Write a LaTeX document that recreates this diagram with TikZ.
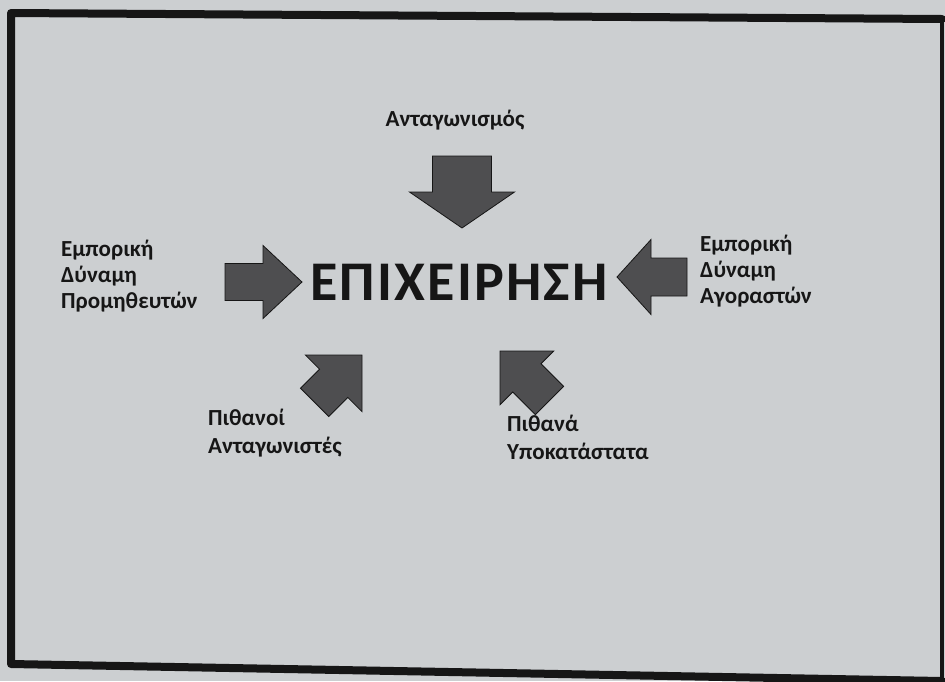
\documentclass[tikz,border=0pt]{standalone}
\usepackage{fontspec}
\setmainfont{Carlito}
\definecolor{paper}{RGB}{204,207,209}
\definecolor{arrowfill}{RGB}{78,78,80}
\definecolor{ink}{RGB}{22,22,22}
\newcommand\blockarrow[7]{% tip x, tip y, angle, length, head length, head width, shaft width
  \begin{scope}[shift={(#1,#2)},rotate=#3]
    \path[blockarrowstyle] (0,0) -- (-#5,#6/2) -- (-#5,#7/2) -- (-#4,#7/2)
      -- (-#4,-#7/2) -- (-#5,-#7/2) -- (-#5,-#6/2) -- cycle;
  \end{scope}}
\tikzset{
  blockarrowstyle/.style={fill=arrowfill,draw=ink,line width=0.8pt,line join=miter},
  lbl/.style={anchor=base west,inner sep=0pt,text=ink,font=\fontsize{23}{26}\selectfont\bfseries},
  mainlbl/.style={anchor=base,inner sep=0pt,text=ink,font=\fontsize{56}{60}\selectfont\bfseries\addfontfeature{LetterSpace=4}},
  framestyle/.style={draw=ink,line width=8pt,line cap=round,line join=round}
}
\begin{document}
\begin{tikzpicture}[x=1pt,y=-1pt]
\useasboundingbox (0,0) rectangle (945,681);
\fill[paper] (0,0) rectangle (945,681);
% frame
\coordinate (tl) at (11,13);
\coordinate (tr) at (942,19);
\coordinate (br) at (942,681);
\coordinate (bl) at (11,664);
\draw[framestyle] (tr) -- (tl) -- (bl) -- (br);
\draw[draw=ink,line width=4pt] (tr) -- (br);
% centre
\node[mainlbl] (firm) at (459,300) {ΕΠΙΧΕΙΡΗΣΗ};
% arrows
\blockarrow{462}{228}{-90}{72}{36}{105}{59}
\blockarrow{302}{282}{0}{77}{39}{73}{37}
\blockarrow{617}{277}{180}{70}{34}{75}{38}
\blockarrow{362}{355}{45}{67}{40}{80}{40}
\blockarrow{500}{351}{135}{70}{38}{76}{40}
% labels
\node[lbl,anchor=base] (comp) at (455,126) {Ανταγωνισμός};
\node[lbl] (sup1) at (61,256) {Εμπορική};
\node[lbl] (sup2) at (61,282) {Δύναμη};
\node[lbl] (sup3) at (61,308) {Προμηθευτών};
\node[lbl] (buy1) at (700,251) {Εμπορική};
\node[lbl] (buy2) at (700,277) {Δύναμη};
\node[lbl] (buy3) at (700,303) {Αγοραστών};
\node[lbl] (ent1) at (208,425) {Πιθανοί};
\node[lbl] (ent2) at (208,453) {Ανταγωνιστές};
\node[lbl] (sub1) at (507,431) {Πιθανά};
\node[lbl] (sub2) at (507,459) {Υποκατάστατα};
\end{tikzpicture}
\end{document}
